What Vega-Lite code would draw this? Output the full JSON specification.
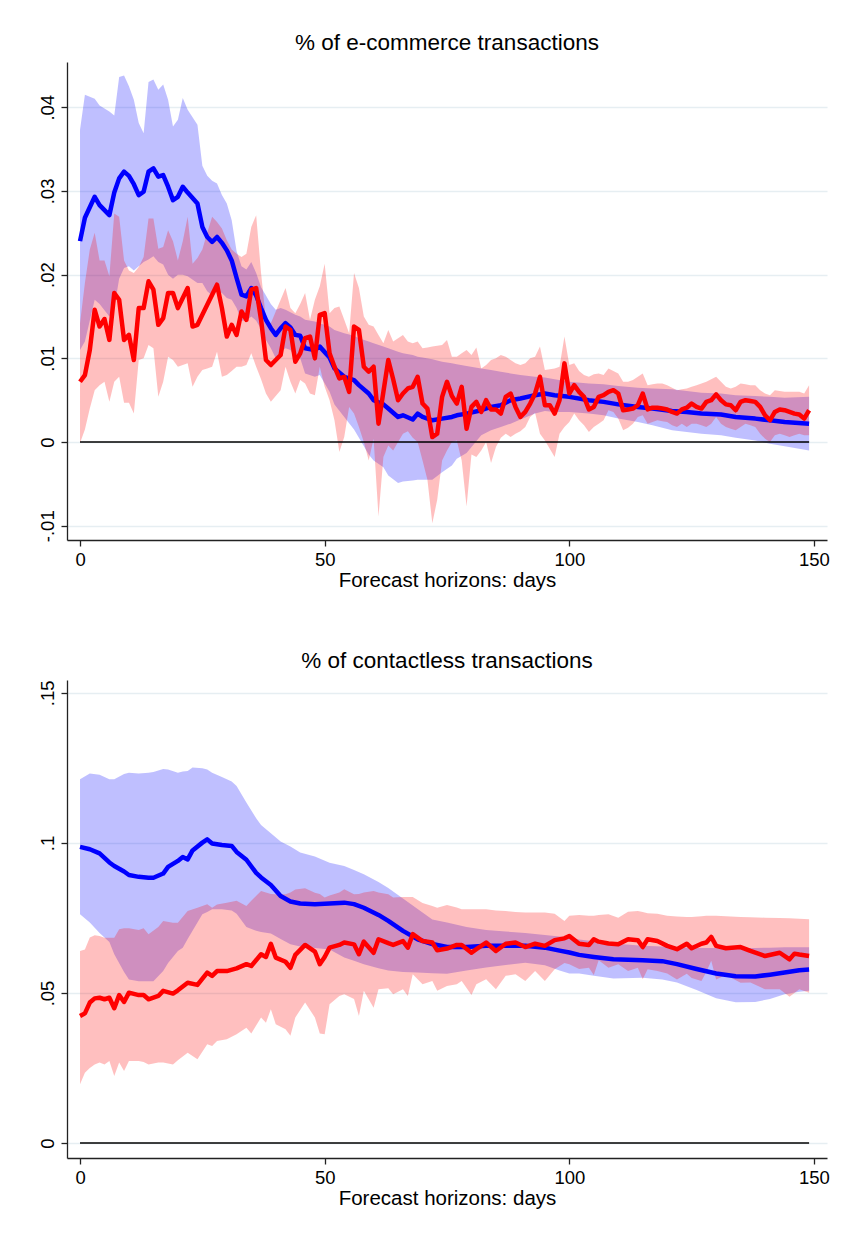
{
 "$schema": "https://vega.github.io/schema/vega-lite/v6.json",
 "background": "white",
 "padding": {"left": 37, "top": 31, "right": 10, "bottom": 5},
 "spacing": 58,
 "datasets": {
  "zero": [{"d": 0, "d2": 149, "e": 0}],
  "top_blue": [
{"d":0,"e":0.0240,"l":0.0110,"h":0.0373},{"d":1,"e":0.0268,"l":0.0120,"h":0.0415},{"d":3,"e":0.0293,"l":0.0170,"h":0.0410},{"d":4,"e":0.0283,"l":0.0165,"h":0.0402},{"d":6,"e":0.0271,"l":0.0150,"h":0.0395},{"d":7,"e":0.0298,"l":0.0160,"h":0.0390},{"d":8,"e":0.0315,"l":0.0195,"h":0.0436},{"d":9,"e":0.0323,"l":0.0208,"h":0.0438},{"d":10,"e":0.0318,"l":0.0210,"h":0.0425},{"d":11,"e":0.0308,"l":0.0205,"h":0.0409},{"d":12,"e":0.0295,"l":0.0210,"h":0.0381},{"d":13,"e":0.0299,"l":0.0215,"h":0.0369},{"d":14,"e":0.0323,"l":0.0218,"h":0.0430},{"d":15,"e":0.0327,"l":0.0222,"h":0.0433},{"d":16,"e":0.0317,"l":0.0215,"h":0.0421},{"d":17,"e":0.0319,"l":0.0212,"h":0.0427},{"d":18,"e":0.0305,"l":0.0200,"h":0.0409},{"d":19,"e":0.0289,"l":0.0195,"h":0.0377},{"d":20,"e":0.0293,"l":0.0200,"h":0.0385},{"d":21,"e":0.0305,"l":0.0200,"h":0.0411},{"d":22,"e":0.0298,"l":0.0198,"h":0.0397},{"d":24,"e":0.0285,"l":0.0190,"h":0.0379},{"d":25,"e":0.0257,"l":0.0190,"h":0.0330},{"d":26,"e":0.0245,"l":0.0180,"h":0.0318},{"d":27,"e":0.0239,"l":0.0175,"h":0.0312},{"d":28,"e":0.0245,"l":0.0180,"h":0.0309},{"d":29,"e":0.0238,"l":0.0178,"h":0.0295},{"d":30,"e":0.0229,"l":0.0172,"h":0.0285},{"d":31,"e":0.0217,"l":0.0170,"h":0.0265},{"d":32,"e":0.0196,"l":0.0160,"h":0.0228},{"d":33,"e":0.0176,"l":0.0145,"h":0.0210},{"d":34,"e":0.0174,"l":0.0145,"h":0.0206},{"d":35,"e":0.0184,"l":0.0150,"h":0.0215},{"d":36,"e":0.0175,"l":0.0145,"h":0.0202},{"d":37,"e":0.0160,"l":0.0135,"h":0.0185},{"d":38,"e":0.0146,"l":0.0122,"h":0.0175},{"d":39,"e":0.0136,"l":0.0112,"h":0.0165},{"d":40,"e":0.0128,"l":0.0100,"h":0.0158},{"d":41,"e":0.0136,"l":0.0108,"h":0.0160},{"d":42,"e":0.0142,"l":0.0112,"h":0.0158},{"d":43,"e":0.0137,"l":0.0110,"h":0.0155},{"d":44,"e":0.0128,"l":0.0100,"h":0.0152},{"d":45,"e":0.0127,"l":0.0100,"h":0.0150},{"d":46,"e":0.0112,"l":0.0082,"h":0.0146},{"d":48,"e":0.0110,"l":0.0078,"h":0.0144},{"d":49,"e":0.0114,"l":0.0080,"h":0.0142},{"d":51,"e":0.0101,"l":0.0060,"h":0.0138},{"d":52,"e":0.0088,"l":0.0045,"h":0.0134},{"d":54,"e":0.0078,"l":0.0030,"h":0.0130},{"d":56,"e":0.0074,"l":0.0015,"h":0.0127},{"d":57,"e":0.0068,"l":0.0005,"h":0.0124},{"d":59,"e":0.0058,"l":-0.0015,"h":0.0120},{"d":60,"e":0.0050,"l":-0.0022,"h":0.0118},{"d":62,"e":0.0045,"l":-0.0030,"h":0.0114},{"d":63,"e":0.0040,"l":-0.0040,"h":0.0112},{"d":65,"e":0.0030,"l":-0.0049,"h":0.0108},{"d":66,"e":0.0032,"l":-0.0047,"h":0.0106},{"d":68,"e":0.0027,"l":-0.0046,"h":0.0104},{"d":69,"e":0.0034,"l":-0.0045,"h":0.0102},{"d":70,"e":0.0030,"l":-0.0045,"h":0.0101},{"d":72,"e":0.0026,"l":-0.0045,"h":0.0099},{"d":74,"e":0.0028,"l":-0.0036,"h":0.0096},{"d":76,"e":0.0030,"l":-0.0028,"h":0.0094},{"d":77,"e":0.0032,"l":-0.0020,"h":0.0093},{"d":79,"e":0.0034,"l":-0.0013,"h":0.0091},{"d":82,"e":0.0038,"l":0.0008,"h":0.0088},{"d":84,"e":0.0042,"l":0.0014,"h":0.0086},{"d":86,"e":0.0044,"l":0.0018,"h":0.0084},{"d":88,"e":0.0050,"l":0.0022,"h":0.0082},{"d":90,"e":0.0052,"l":0.0027,"h":0.0080},{"d":93,"e":0.0056,"l":0.0034,"h":0.0078},{"d":95,"e":0.0058,"l":0.0037,"h":0.0077},{"d":97,"e":0.0056,"l":0.0036,"h":0.0075},{"d":100,"e":0.0054,"l":0.0036,"h":0.0072},{"d":104,"e":0.0050,"l":0.0034,"h":0.0070},{"d":107,"e":0.0048,"l":0.0032,"h":0.0069},{"d":110,"e":0.0045,"l":0.0028,"h":0.0067},{"d":114,"e":0.0042,"l":0.0024,"h":0.0065},{"d":117,"e":0.0040,"l":0.0020,"h":0.0064},{"d":121,"e":0.0037,"l":0.0014,"h":0.0063},{"d":124,"e":0.0036,"l":0.0012,"h":0.0061},{"d":127,"e":0.0034,"l":0.0010,"h":0.0059},{"d":131,"e":0.0033,"l":0.0008,"h":0.0058},{"d":134,"e":0.0030,"l":0.0005,"h":0.0056},{"d":138,"e":0.0028,"l":0.0002,"h":0.0055},{"d":141,"e":0.0026,"l":-0.0002,"h":0.0054},{"d":144,"e":0.0024,"l":-0.0005,"h":0.0053},{"d":149,"e":0.0022,"l":-0.0010,"h":0.0054}
  ],
  "top_red": [
{"d":0,"e":0.0072,"l":-0.0001,"h":0.0142},{"d":1,"e":0.0080,"l":0.0015,"h":0.0190},{"d":2,"e":0.0110,"l":0.0040,"h":0.0230},{"d":3,"e":0.0158,"l":0.0062,"h":0.0250},{"d":4,"e":0.0138,"l":0.0068,"h":0.0217},{"d":5,"e":0.0147,"l":0.0072,"h":0.0217},{"d":6,"e":0.0122,"l":0.0048,"h":0.0198},{"d":7,"e":0.0178,"l":0.0072,"h":0.0273},{"d":8,"e":0.0170,"l":0.0078,"h":0.0269},{"d":9,"e":0.0122,"l":0.0047,"h":0.0217},{"d":10,"e":0.0128,"l":0.0047,"h":0.0205},{"d":11,"e":0.0098,"l":0.0034,"h":0.0202},{"d":12,"e":0.0160,"l":0.0098,"h":0.0209},{"d":13,"e":0.0160,"l":0.0100,"h":0.0221},{"d":14,"e":0.0192,"l":0.0116,"h":0.0267},{"d":15,"e":0.0182,"l":0.0112,"h":0.0267},{"d":16,"e":0.0140,"l":0.0054,"h":0.0231},{"d":17,"e":0.0148,"l":0.0072,"h":0.0233},{"d":18,"e":0.0178,"l":0.0102,"h":0.0253},{"d":19,"e":0.0178,"l":0.0098,"h":0.0240},{"d":20,"e":0.0160,"l":0.0090,"h":0.0217},{"d":21,"e":0.0172,"l":0.0092,"h":0.0240},{"d":22,"e":0.0184,"l":0.0094,"h":0.0269},{"d":23,"e":0.0138,"l":0.0066,"h":0.0213},{"d":24,"e":0.0140,"l":0.0078,"h":0.0220},{"d":25,"e":0.0152,"l":0.0086,"h":0.0230},{"d":26,"e":0.0164,"l":0.0088,"h":0.0250},{"d":27,"e":0.0176,"l":0.0090,"h":0.0269},{"d":28,"e":0.0188,"l":0.0108,"h":0.0263},{"d":29,"e":0.0160,"l":0.0078,"h":0.0255},{"d":30,"e":0.0126,"l":0.0080,"h":0.0241},{"d":31,"e":0.0140,"l":0.0085,"h":0.0230},{"d":32,"e":0.0128,"l":0.0090,"h":0.0225},{"d":33,"e":0.0156,"l":0.0090,"h":0.0221},{"d":34,"e":0.0146,"l":0.0092,"h":0.0225},{"d":35,"e":0.0182,"l":0.0106,"h":0.0257},{"d":36,"e":0.0184,"l":0.0090,"h":0.0271},{"d":37,"e":0.0146,"l":0.0075,"h":0.0202},{"d":38,"e":0.0098,"l":0.0058,"h":0.0146},{"d":39,"e":0.0092,"l":0.0048,"h":0.0142},{"d":40,"e":0.0098,"l":0.0055,"h":0.0156},{"d":41,"e":0.0104,"l":0.0062,"h":0.0170},{"d":42,"e":0.0138,"l":0.0090,"h":0.0184},{"d":43,"e":0.0134,"l":0.0072,"h":0.0160},{"d":44,"e":0.0096,"l":0.0058,"h":0.0154},{"d":45,"e":0.0106,"l":0.0074,"h":0.0165},{"d":46,"e":0.0124,"l":0.0070,"h":0.0178},{"d":47,"e":0.0126,"l":0.0058,"h":0.0146},{"d":48,"e":0.0100,"l":0.0056,"h":0.0170},{"d":49,"e":0.0152,"l":0.0090,"h":0.0186},{"d":50,"e":0.0154,"l":0.0066,"h":0.0213},{"d":51,"e":0.0106,"l":0.0050,"h":0.0154},{"d":52,"e":0.0090,"l":0.0026,"h":0.0160},{"d":53,"e":0.0076,"l":-0.0012,"h":0.0162},{"d":54,"e":0.0078,"l":0.0006,"h":0.0146},{"d":55,"e":0.0060,"l":0.0042,"h":0.0130},{"d":56,"e":0.0138,"l":0.0034,"h":0.0202},{"d":57,"e":0.0134,"l":0.0018,"h":0.0184},{"d":58,"e":0.0090,"l":0.0000,"h":0.0150},{"d":59,"e":0.0084,"l":-0.0022,"h":0.0140},{"d":60,"e":0.0090,"l":0.0004,"h":0.0138},{"d":61,"e":0.0022,"l":-0.0089,"h":0.0128},{"d":62,"e":0.0060,"l":-0.0018,"h":0.0118},{"d":63,"e":0.0098,"l":-0.0004,"h":0.0134},{"d":64,"e":0.0075,"l":-0.0010,"h":0.0120},{"d":65,"e":0.0050,"l":0.0000,"h":0.0124},{"d":66,"e":0.0058,"l":0.0010,"h":0.0128},{"d":67,"e":0.0064,"l":0.0013,"h":0.0120},{"d":68,"e":0.0066,"l":0.0005,"h":0.0118},{"d":69,"e":0.0078,"l":0.0000,"h":0.0120},{"d":70,"e":0.0046,"l":-0.0022,"h":0.0112},{"d":71,"e":0.0040,"l":-0.0045,"h":0.0113},{"d":72,"e":0.0006,"l":-0.0097,"h":0.0114},{"d":73,"e":0.0010,"l":-0.0069,"h":0.0115},{"d":74,"e":0.0054,"l":-0.0022,"h":0.0116},{"d":75,"e":0.0072,"l":-0.0010,"h":0.0122},{"d":76,"e":0.0055,"l":0.0000,"h":0.0102},{"d":77,"e":0.0046,"l":0.0002,"h":0.0102},{"d":78,"e":0.0066,"l":-0.0022,"h":0.0106},{"d":79,"e":0.0016,"l":-0.0077,"h":0.0110},{"d":80,"e":0.0042,"l":-0.0015,"h":0.0104},{"d":81,"e":0.0048,"l":-0.0018,"h":0.0113},{"d":82,"e":0.0036,"l":-0.0010,"h":0.0088},{"d":83,"e":0.0050,"l":0.0000,"h":0.0092},{"d":84,"e":0.0039,"l":-0.0025,"h":0.0098},{"d":85,"e":0.0039,"l":-0.0006,"h":0.0100},{"d":86,"e":0.0034,"l":0.0005,"h":0.0104},{"d":87,"e":0.0054,"l":0.0010,"h":0.0102},{"d":88,"e":0.0058,"l":0.0006,"h":0.0098},{"d":89,"e":0.0042,"l":0.0010,"h":0.0094},{"d":90,"e":0.0030,"l":0.0013,"h":0.0092},{"d":91,"e":0.0036,"l":0.0018,"h":0.0094},{"d":92,"e":0.0046,"l":0.0030,"h":0.0100},{"d":93,"e":0.0058,"l":0.0035,"h":0.0102},{"d":94,"e":0.0078,"l":0.0010,"h":0.0114},{"d":95,"e":0.0044,"l":0.0002,"h":0.0086},{"d":96,"e":0.0044,"l":-0.0008,"h":0.0087},{"d":97,"e":0.0034,"l":-0.0018,"h":0.0088},{"d":98,"e":0.0050,"l":0.0010,"h":0.0090},{"d":99,"e":0.0094,"l":0.0018,"h":0.0126},{"d":100,"e":0.0058,"l":0.0024,"h":0.0092},{"d":101,"e":0.0068,"l":0.0034,"h":0.0094},{"d":102,"e":0.0060,"l":0.0026,"h":0.0085},{"d":103,"e":0.0054,"l":0.0020,"h":0.0080},{"d":104,"e":0.0039,"l":0.0012,"h":0.0078},{"d":105,"e":0.0042,"l":0.0018,"h":0.0081},{"d":106,"e":0.0054,"l":0.0022,"h":0.0082},{"d":107,"e":0.0056,"l":0.0026,"h":0.0080},{"d":108,"e":0.0060,"l":0.0038,"h":0.0088},{"d":109,"e":0.0062,"l":0.0036,"h":0.0085},{"d":110,"e":0.0058,"l":0.0028,"h":0.0082},{"d":111,"e":0.0038,"l":0.0014,"h":0.0072},{"d":112,"e":0.0039,"l":0.0017,"h":0.0072},{"d":113,"e":0.0040,"l":0.0022,"h":0.0074},{"d":114,"e":0.0044,"l":0.0030,"h":0.0078},{"d":115,"e":0.0058,"l":0.0032,"h":0.0082},{"d":116,"e":0.0039,"l":0.0022,"h":0.0068},{"d":117,"e":0.0041,"l":0.0024,"h":0.0069},{"d":118,"e":0.0041,"l":0.0026,"h":0.0070},{"d":119,"e":0.0040,"l":0.0025,"h":0.0070},{"d":120,"e":0.0039,"l":0.0024,"h":0.0068},{"d":121,"e":0.0036,"l":0.0020,"h":0.0065},{"d":122,"e":0.0034,"l":0.0018,"h":0.0062},{"d":123,"e":0.0039,"l":0.0022,"h":0.0063},{"d":124,"e":0.0041,"l":0.0018,"h":0.0064},{"d":125,"e":0.0046,"l":0.0022,"h":0.0066},{"d":126,"e":0.0042,"l":0.0022,"h":0.0068},{"d":127,"e":0.0040,"l":0.0020,"h":0.0070},{"d":128,"e":0.0048,"l":0.0018,"h":0.0072},{"d":129,"e":0.0050,"l":0.0022,"h":0.0075},{"d":130,"e":0.0057,"l":0.0030,"h":0.0078},{"d":131,"e":0.0050,"l":0.0022,"h":0.0072},{"d":132,"e":0.0045,"l":0.0018,"h":0.0066},{"d":133,"e":0.0044,"l":0.0016,"h":0.0064},{"d":134,"e":0.0038,"l":0.0014,"h":0.0066},{"d":135,"e":0.0048,"l":0.0018,"h":0.0070},{"d":136,"e":0.0050,"l":0.0022,"h":0.0069},{"d":137,"e":0.0049,"l":0.0020,"h":0.0068},{"d":138,"e":0.0048,"l":0.0018,"h":0.0068},{"d":139,"e":0.0042,"l":0.0010,"h":0.0062},{"d":140,"e":0.0032,"l":0.0004,"h":0.0058},{"d":141,"e":0.0026,"l":0.0000,"h":0.0056},{"d":142,"e":0.0036,"l":0.0008,"h":0.0062},{"d":143,"e":0.0039,"l":0.0010,"h":0.0061},{"d":144,"e":0.0038,"l":0.0008,"h":0.0060},{"d":145,"e":0.0036,"l":0.0006,"h":0.0060},{"d":146,"e":0.0034,"l":0.0008,"h":0.0060},{"d":147,"e":0.0033,"l":0.0010,"h":0.0060},{"d":148,"e":0.0028,"l":0.0008,"h":0.0058},{"d":149,"e":0.0038,"l":0.0008,"h":0.0068}
  ],
  "bot_blue": [
{"d":0,"e":0.0987,"l":0.0762,"h":0.1212},{"d":2,"e":0.0979,"l":0.0735,"h":0.1231},{"d":4,"e":0.0965,"l":0.0700,"h":0.1227},{"d":6,"e":0.0935,"l":0.0670,"h":0.1212},{"d":7,"e":0.0923,"l":0.0629,"h":0.1212},{"d":9,"e":0.0905,"l":0.0570,"h":0.1230},{"d":10,"e":0.0893,"l":0.0545,"h":0.1234},{"d":12,"e":0.0887,"l":0.0539,"h":0.1231},{"d":14,"e":0.0884,"l":0.0539,"h":0.1234},{"d":15,"e":0.0884,"l":0.0539,"h":0.1236},{"d":17,"e":0.0898,"l":0.0573,"h":0.1246},{"d":18,"e":0.0920,"l":0.0600,"h":0.1245},{"d":20,"e":0.0940,"l":0.0640,"h":0.1234},{"d":21,"e":0.0953,"l":0.0651,"h":0.1238},{"d":22,"e":0.0945,"l":0.0680,"h":0.1240},{"d":23,"e":0.0975,"l":0.0707,"h":0.1251},{"d":25,"e":0.1001,"l":0.0762,"h":0.1249},{"d":26,"e":0.1012,"l":0.0770,"h":0.1245},{"d":27,"e":0.0998,"l":0.0779,"h":0.1234},{"d":29,"e":0.0993,"l":0.0779,"h":0.1220},{"d":31,"e":0.0990,"l":0.0775,"h":0.1205},{"d":32,"e":0.0970,"l":0.0764,"h":0.1190},{"d":34,"e":0.0944,"l":0.0720,"h":0.1135},{"d":36,"e":0.0900,"l":0.0707,"h":0.1082},{"d":37,"e":0.0885,"l":0.0703,"h":0.1060},{"d":39,"e":0.0860,"l":0.0698,"h":0.1032},{"d":41,"e":0.0823,"l":0.0680,"h":0.1005},{"d":43,"e":0.0805,"l":0.0662,"h":0.0988},{"d":45,"e":0.0798,"l":0.0655,"h":0.0968},{"d":48,"e":0.0796,"l":0.0650,"h":0.0955},{"d":51,"e":0.0798,"l":0.0645,"h":0.0934},{"d":54,"e":0.0801,"l":0.0618,"h":0.0923},{"d":56,"e":0.0796,"l":0.0607,"h":0.0910},{"d":58,"e":0.0784,"l":0.0596,"h":0.0896},{"d":61,"e":0.0760,"l":0.0582,"h":0.0870},{"d":63,"e":0.0740,"l":0.0575,"h":0.0850},{"d":66,"e":0.0707,"l":0.0570,"h":0.0815},{"d":69,"e":0.0679,"l":0.0568,"h":0.0780},{"d":72,"e":0.0663,"l":0.0566,"h":0.0745},{"d":75,"e":0.0653,"l":0.0564,"h":0.0735},{"d":79,"e":0.0653,"l":0.0575,"h":0.0720},{"d":83,"e":0.0657,"l":0.0585,"h":0.0710},{"d":87,"e":0.0657,"l":0.0593,"h":0.0705},{"d":91,"e":0.0657,"l":0.0601,"h":0.0700},{"d":95,"e":0.0651,"l":0.0592,"h":0.0693},{"d":98,"e":0.0641,"l":0.0575,"h":0.0688},{"d":100,"e":0.0635,"l":0.0565,"h":0.0685},{"d":102,"e":0.0627,"l":0.0565,"h":0.0678},{"d":105,"e":0.0620,"l":0.0557,"h":0.0672},{"d":109,"e":0.0612,"l":0.0548,"h":0.0665},{"d":115,"e":0.0609,"l":0.0551,"h":0.0657},{"d":119,"e":0.0606,"l":0.0545,"h":0.0655},{"d":122,"e":0.0596,"l":0.0535,"h":0.0652},{"d":126,"e":0.0580,"l":0.0510,"h":0.0650},{"d":130,"e":0.0565,"l":0.0482,"h":0.0650},{"d":134,"e":0.0556,"l":0.0469,"h":0.0650},{"d":138,"e":0.0555,"l":0.0470,"h":0.0650},{"d":141,"e":0.0561,"l":0.0480,"h":0.0651},{"d":144,"e":0.0568,"l":0.0496,"h":0.0652},{"d":147,"e":0.0576,"l":0.0504,"h":0.0652},{"d":149,"e":0.0578,"l":0.0507,"h":0.0652}
  ],
  "bot_red": [
{"d":0,"e":0.0423,"l":0.0196,"h":0.0640},{"d":1,"e":0.0432,"l":0.0234,"h":0.0645},{"d":2,"e":0.0468,"l":0.0250,"h":0.0685},{"d":3,"e":0.0482,"l":0.0262,"h":0.0692},{"d":4,"e":0.0484,"l":0.0268,"h":0.0690},{"d":5,"e":0.0479,"l":0.0262,"h":0.0684},{"d":6,"e":0.0484,"l":0.0273,"h":0.0684},{"d":7,"e":0.0449,"l":0.0223,"h":0.0684},{"d":8,"e":0.0493,"l":0.0268,"h":0.0712},{"d":9,"e":0.0470,"l":0.0240,"h":0.0716},{"d":10,"e":0.0501,"l":0.0273,"h":0.0716},{"d":12,"e":0.0493,"l":0.0273,"h":0.0710},{"d":13,"e":0.0493,"l":0.0270,"h":0.0716},{"d":14,"e":0.0479,"l":0.0262,"h":0.0696},{"d":16,"e":0.0490,"l":0.0268,"h":0.0720},{"d":17,"e":0.0507,"l":0.0268,"h":0.0740},{"d":19,"e":0.0498,"l":0.0262,"h":0.0734},{"d":20,"e":0.0509,"l":0.0276,"h":0.0734},{"d":22,"e":0.0534,"l":0.0301,"h":0.0773},{"d":24,"e":0.0527,"l":0.0279,"h":0.0784},{"d":26,"e":0.0568,"l":0.0329,"h":0.0796},{"d":27,"e":0.0557,"l":0.0323,"h":0.0784},{"d":28,"e":0.0573,"l":0.0340,"h":0.0795},{"d":30,"e":0.0573,"l":0.0346,"h":0.0801},{"d":32,"e":0.0582,"l":0.0362,"h":0.0807},{"d":34,"e":0.0596,"l":0.0384,"h":0.0790},{"d":35,"e":0.0590,"l":0.0365,"h":0.0807},{"d":37,"e":0.0629,"l":0.0418,"h":0.0840},{"d":38,"e":0.0620,"l":0.0401,"h":0.0835},{"d":39,"e":0.0664,"l":0.0446,"h":0.0830},{"d":40,"e":0.0618,"l":0.0396,"h":0.0829},{"d":42,"e":0.0604,"l":0.0379,"h":0.0829},{"d":43,"e":0.0584,"l":0.0357,"h":0.0835},{"d":44,"e":0.0627,"l":0.0418,"h":0.0845},{"d":46,"e":0.0660,"l":0.0468,"h":0.0849},{"d":48,"e":0.0638,"l":0.0418,"h":0.0834},{"d":49,"e":0.0596,"l":0.0365,"h":0.0830},{"d":50,"e":0.0620,"l":0.0362,"h":0.0818},{"d":51,"e":0.0651,"l":0.0462,"h":0.0825},{"d":53,"e":0.0660,"l":0.0490,"h":0.0835},{"d":54,"e":0.0668,"l":0.0496,"h":0.0846},{"d":56,"e":0.0662,"l":0.0480,"h":0.0829},{"d":57,"e":0.0629,"l":0.0423,"h":0.0830},{"d":58,"e":0.0671,"l":0.0507,"h":0.0835},{"d":60,"e":0.0634,"l":0.0451,"h":0.0840},{"d":61,"e":0.0679,"l":0.0512,"h":0.0835},{"d":63,"e":0.0666,"l":0.0516,"h":0.0829},{"d":64,"e":0.0660,"l":0.0496,"h":0.0818},{"d":66,"e":0.0673,"l":0.0512,"h":0.0820},{"d":67,"e":0.0651,"l":0.0490,"h":0.0820},{"d":68,"e":0.0696,"l":0.0562,"h":0.0820},{"d":70,"e":0.0673,"l":0.0529,"h":0.0800},{"d":72,"e":0.0668,"l":0.0540,"h":0.0790},{"d":73,"e":0.0642,"l":0.0507,"h":0.0784},{"d":75,"e":0.0648,"l":0.0523,"h":0.0793},{"d":77,"e":0.0660,"l":0.0529,"h":0.0785},{"d":78,"e":0.0660,"l":0.0540,"h":0.0779},{"d":80,"e":0.0634,"l":0.0493,"h":0.0779},{"d":81,"e":0.0646,"l":0.0529,"h":0.0779},{"d":83,"e":0.0668,"l":0.0546,"h":0.0779},{"d":85,"e":0.0640,"l":0.0512,"h":0.0775},{"d":87,"e":0.0664,"l":0.0557,"h":0.0773},{"d":89,"e":0.0668,"l":0.0562,"h":0.0770},{"d":91,"e":0.0653,"l":0.0540,"h":0.0768},{"d":93,"e":0.0664,"l":0.0573,"h":0.0768},{"d":95,"e":0.0657,"l":0.0540,"h":0.0768},{"d":97,"e":0.0676,"l":0.0579,"h":0.0764},{"d":99,"e":0.0682,"l":0.0600,"h":0.0740},{"d":100,"e":0.0690,"l":0.0596,"h":0.0757},{"d":102,"e":0.0664,"l":0.0580,"h":0.0760},{"d":104,"e":0.0660,"l":0.0584,"h":0.0757},{"d":105,"e":0.0679,"l":0.0560,"h":0.0757},{"d":106,"e":0.0671,"l":0.0609,"h":0.0760},{"d":108,"e":0.0665,"l":0.0584,"h":0.0762},{"d":110,"e":0.0662,"l":0.0596,"h":0.0751},{"d":112,"e":0.0679,"l":0.0573,"h":0.0771},{"d":114,"e":0.0676,"l":0.0584,"h":0.0773},{"d":115,"e":0.0653,"l":0.0546,"h":0.0770},{"d":116,"e":0.0679,"l":0.0579,"h":0.0766},{"d":118,"e":0.0673,"l":0.0573,"h":0.0764},{"d":120,"e":0.0657,"l":0.0565,"h":0.0757},{"d":122,"e":0.0646,"l":0.0545,"h":0.0755},{"d":124,"e":0.0664,"l":0.0564,"h":0.0753},{"d":125,"e":0.0649,"l":0.0550,"h":0.0753},{"d":127,"e":0.0664,"l":0.0540,"h":0.0756},{"d":128,"e":0.0668,"l":0.0570,"h":0.0757},{"d":129,"e":0.0687,"l":0.0607,"h":0.0757},{"d":130,"e":0.0657,"l":0.0545,"h":0.0757},{"d":132,"e":0.0649,"l":0.0560,"h":0.0756},{"d":135,"e":0.0653,"l":0.0534,"h":0.0753},{"d":137,"e":0.0640,"l":0.0535,"h":0.0752},{"d":140,"e":0.0623,"l":0.0512,"h":0.0751},{"d":143,"e":0.0634,"l":0.0512,"h":0.0750},{"d":145,"e":0.0612,"l":0.0487,"h":0.0749},{"d":146,"e":0.0631,"l":0.0500,"h":0.0748},{"d":147,"e":0.0628,"l":0.0512,"h":0.0747},{"d":149,"e":0.0623,"l":0.0501,"h":0.0746}
  ]
 },
 "vconcat": [
  {
   "title": "% of e-commerce transactions",
   "width": 760, "height": 478,
   "encoding": {"x": {"field": "d", "type": "quantitative", "scale": {"domain": [-2.66, 152.66], "nice": false, "zero": false}, "axis": {"values": [0, 50, 100, 150]}, "title": "Forecast horizons: days"}},
   "layer": [
    {"data": {"name": "top_blue"}, "mark": {"type": "area", "color": "#0000ff", "opacity": 0.25},
     "encoding": {"y": {"field": "l", "type": "quantitative", "scale": {"domain": [-0.0117, 0.0454], "nice": false, "zero": false}, "axis": {"values": [-0.01, 0, 0.01, 0.02, 0.03, 0.04], "labelExpr": "replace(replace(format(datum.value, '.2~f'), '0.', '.'), '\u2212', '-')"}, "title": null}, "y2": {"field": "h"}}},
    {"data": {"name": "top_red"}, "mark": {"type": "area", "color": "#ff0000", "opacity": 0.25},
     "encoding": {"y": {"field": "l", "type": "quantitative", "scale": {"domain": [-0.0117, 0.0454], "nice": false, "zero": false}, "title": null}, "y2": {"field": "h"}}},
    {"data": {"name": "zero"}, "mark": {"type": "rule", "color": "#000000", "strokeWidth": 1.5},
     "encoding": {"x2": {"field": "d2"}, "y": {"field": "e", "type": "quantitative", "scale": {"domain": [-0.0117, 0.0454], "nice": false, "zero": false}, "title": null}}},
    {"data": {"name": "top_blue"}, "mark": {"type": "line", "color": "#0000ff", "strokeWidth": 4.5, "strokeJoin": "round"},
     "encoding": {"y": {"field": "e", "type": "quantitative", "scale": {"domain": [-0.0117, 0.0454], "nice": false, "zero": false}, "title": null}}},
    {"data": {"name": "top_red"}, "mark": {"type": "line", "color": "#ff0000", "strokeWidth": 4.5, "strokeJoin": "round"},
     "encoding": {"y": {"field": "e", "type": "quantitative", "scale": {"domain": [-0.0117, 0.0454], "nice": false, "zero": false}, "title": null}}}
   ]
  },
  {
   "title": "% of contactless transactions",
   "width": 760, "height": 478,
   "encoding": {"x": {"field": "d", "type": "quantitative", "scale": {"domain": [-2.66, 152.66], "nice": false, "zero": false}, "axis": {"values": [0, 50, 100, 150]}, "title": "Forecast horizons: days"}},
   "layer": [
    {"data": {"name": "bot_blue"}, "mark": {"type": "area", "color": "#0000ff", "opacity": 0.25},
     "encoding": {"y": {"field": "l", "type": "quantitative", "scale": {"domain": [-0.005, 0.1543], "nice": false, "zero": false}, "axis": {"values": [0, 0.05, 0.1, 0.15], "labelExpr": "replace(format(datum.value, '.2~f'), '0.', '.')"}, "title": null}, "y2": {"field": "h"}}},
    {"data": {"name": "bot_red"}, "mark": {"type": "area", "color": "#ff0000", "opacity": 0.25},
     "encoding": {"y": {"field": "l", "type": "quantitative", "scale": {"domain": [-0.005, 0.1543], "nice": false, "zero": false}, "title": null}, "y2": {"field": "h"}}},
    {"data": {"name": "zero"}, "mark": {"type": "rule", "color": "#000000", "strokeWidth": 1.5},
     "encoding": {"x2": {"field": "d2"}, "y": {"field": "e", "type": "quantitative", "scale": {"domain": [-0.005, 0.1543], "nice": false, "zero": false}, "title": null}}},
    {"data": {"name": "bot_blue"}, "mark": {"type": "line", "color": "#0000ff", "strokeWidth": 4.5, "strokeJoin": "round"},
     "encoding": {"y": {"field": "e", "type": "quantitative", "scale": {"domain": [-0.005, 0.1543], "nice": false, "zero": false}, "title": null}}},
    {"data": {"name": "bot_red"}, "mark": {"type": "line", "color": "#ff0000", "strokeWidth": 4.5, "strokeJoin": "round"},
     "encoding": {"y": {"field": "e", "type": "quantitative", "scale": {"domain": [-0.005, 0.1543], "nice": false, "zero": false}, "title": null}}}
   ]
  }
 ],
 "config": {
  "view": {"stroke": null},
  "font": "Liberation Sans",
  "axis": {"domainColor": "#222222", "tickColor": "#222222", "labelColor": "#000000", "titleColor": "#000000", "labelFontSize": 18.5, "titleFontSize": 20.5, "titleFontWeight": "normal", "tickSize": 6, "domainWidth": 1.3, "tickWidth": 1.3, "gridColor": "#e6eef2", "gridWidth": 1.5, "labelFont": "Liberation Sans", "titleFont": "Liberation Sans"},
  "axisX": {"grid": false, "labelPadding": 4, "titlePadding": 2},
  "axisY": {"grid": true, "labelAngle": -90, "labelAlign": "center", "labelBaseline": "bottom", "labelPadding": 4},
  "title": {"fontSize": 22.5, "fontWeight": "normal", "color": "#000000", "font": "Liberation Sans", "frame": "group", "anchor": "middle", "offset": 8}
 }
}
